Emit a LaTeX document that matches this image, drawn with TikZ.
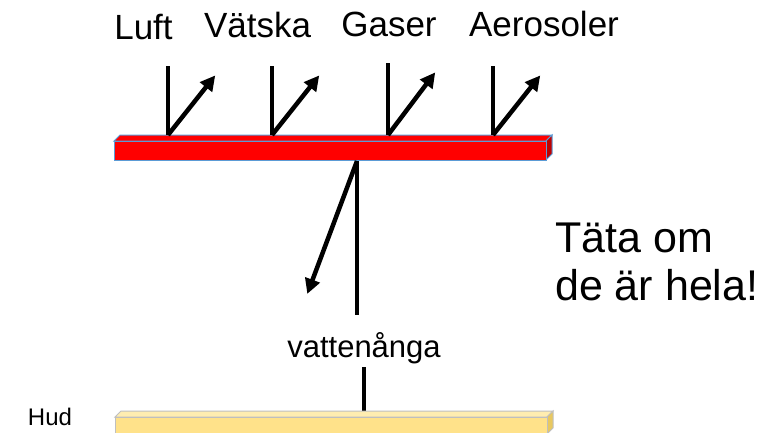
\documentclass[tikz,border=0pt]{standalone}
\usepackage{fontspec}
\setmainfont{Liberation Sans}
\usetikzlibrary{arrows.meta}
\definecolor{barred}{HTML}{FF0000}
\definecolor{barside}{HTML}{C00000}
\definecolor{baredge}{HTML}{5B9BD5}
\definecolor{hudfill}{HTML}{FFE28A}
\definecolor{hudtop}{HTML}{FFEDB0}
\definecolor{hudside}{HTML}{E8C860}
\definecolor{hudedge}{HTML}{BFBFBF}
\begin{document}
\begin{tikzpicture}[x=1pt,y=-1pt,
  lbl/.style={font=\fontsize{35}{40}\selectfont, anchor=base, inner sep=0pt},
  small/.style={font=\fontsize{31}{34}\selectfont, anchor=base, inner sep=0pt},
  stem/.style={line width=4.5pt},
  arr/.style={line width=4.5pt, -{Triangle[length=15pt,width=15pt]}, shorten >=-2pt}]
\useasboundingbox (0,0) rectangle (763,432);
% red bar
\filldraw[fill=barred, draw=baredge, line width=1pt] (114,141) -- (120,135) -- (552,135) -- (546,141) -- cycle;
\filldraw[fill=barside, draw=baredge, line width=1pt] (546,141) -- (552,135) -- (552,154) -- (546,160) -- cycle;
\filldraw[fill=barred, draw=baredge, line width=1pt] (114,141) rectangle (546,160);
% top labels
\node[lbl] (luft) at (143.5,39) {Luft};
\node[lbl] (vatska) at (257.5,37) {Vätska};
\node[lbl] (gaser) at (389,36) {Gaser};
\node[lbl] (aero) at (544,36) {Aerosoler};
% stems and arrows
\foreach \n/\x/\t in {a/168/66, b/272/66, c/388/63, d/493/66}{
  \coordinate (\n top) at (\x,\t);
  \coordinate (\n bot) at (\x,135);
  \coordinate (\n tip) at (\x+46,\t+11);
  \draw[stem] (\n top) -- (\n bot);
  \draw[arr] (\n bot) -- (\n tip);
}
% middle
\coordinate (mtop) at (357,161);
\coordinate (mbot) at (357,315);
\coordinate (mtip) at (308,292);
\draw[stem] (mtop) -- (mbot);
\draw[arr] (mtop) -- (mtip);
\node[small] (vat) at (364,357) {vattenånga};
\coordinate (vtop) at (364,367);
\coordinate (vbot) at (364,412);
\draw[stem] (vtop) -- (vbot);
% hud bar
\filldraw[fill=hudtop, draw=hudedge, line width=1pt] (115,417) -- (121,411) -- (553,411) -- (547,417) -- cycle;
\filldraw[fill=hudside, draw=hudedge, line width=1pt] (547,417) -- (553,411) -- (553,428) -- (547,434) -- cycle;
\filldraw[fill=hudfill, draw=hudedge, line width=1pt] (115,417) rectangle (547,434);
\node[small, font=\fontsize{24}{28}\selectfont] (hud) at (50,425) {Hud};
% right text
\node[font=\fontsize{43}{48}\selectfont, anchor=base west, inner sep=0pt, align=left] (tata) at (555,300) {Täta om\\de är hela!};
\end{tikzpicture}
\end{document}
